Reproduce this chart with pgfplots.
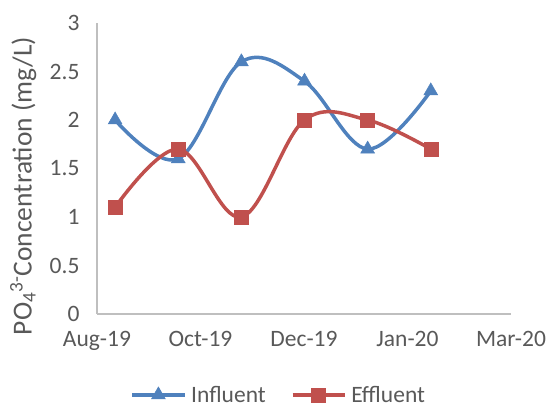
\documentclass[border=0pt]{standalone}
\usepackage{pgfplots}
\pgfplotsset{compat=1.18}
\usepackage{fontspec}
\setmainfont{Carlito}
\definecolor{blu}{HTML}{4F81BD}
\definecolor{rd}{HTML}{C0504D}
\definecolor{txt}{HTML}{595959}
\definecolor{axg}{HTML}{BFBFBF}
\begin{document}
\begin{tikzpicture}[font=\fontsize{23.5bp}{28bp}\selectfont]
\begin{axis}[
  scale only axis, width=414bp, height=291bp,
  xmin=0, xmax=4, ymin=0, ymax=3,
  xtick={0,1,2,3,4},
  xticklabels={Aug-19,Oct-19,Dec-19,Jan-20,Mar-20},
  ytick={0,0.5,1,1.5,2,2.5,3},
  axis x line*=bottom, axis y line*=left,
  axis line style={axg, line width=1.3bp},
  major tick length=0pt,
  tick label style={text=txt},
  /pgf/number format/assume math mode=true,
  xticklabel style={yshift=-14bp},
  yticklabel style={xshift=-14bp},
  every axis y label/.style={at={(axis description cs:-0.178,0.44)}, anchor=center, rotate=90, text=txt, font=\fontsize{27.5bp}{32bp}\selectfont},
  ylabel={PO\textsubscript{4}\textsuperscript{3-}Concentration (mg/L)},
  legend style={at={(axis description cs:0.438,-0.278)}, anchor=center, draw=none, fill=none,
    legend columns=2, text=txt, nodes={inner sep=1bp},
    /tikz/every even column/.append style={column sep=24bp},
    /tikz/every odd column/.append style={column sep=4bp}},
  legend image code/.code={\draw[mark repeat=2,mark phase=2,#1] plot coordinates {(0bp,0bp) (26bp,0bp) (52bp,0bp)};},
  smooth, tension=0.6,
]
\addplot[blu, line width=3.5bp, mark=triangle*, mark size=8bp, mark options={solid, fill=blu, line width=0.5bp}]
  coordinates {(0.175,2.0) (0.785,1.6) (1.395,2.6) (2.005,2.4) (2.615,1.7) (3.225,2.3)};
\addlegendentry{Influent}
\addplot[rd, line width=3.5bp, mark=square*, mark size=7bp, mark options={solid, fill=rd, line width=0.5bp}]
  coordinates {(0.175,1.1) (0.785,1.7) (1.395,1.0) (2.005,2.0) (2.615,2.0) (3.225,1.7)};
\addlegendentry{Effluent}
\end{axis}
\pgfresetboundingbox
\path ([shift={(-97bp,-93bp)}]current axis.south west) rectangle ([shift={(37bp,23bp)}]current axis.north east);
\end{tikzpicture}
\end{document}
